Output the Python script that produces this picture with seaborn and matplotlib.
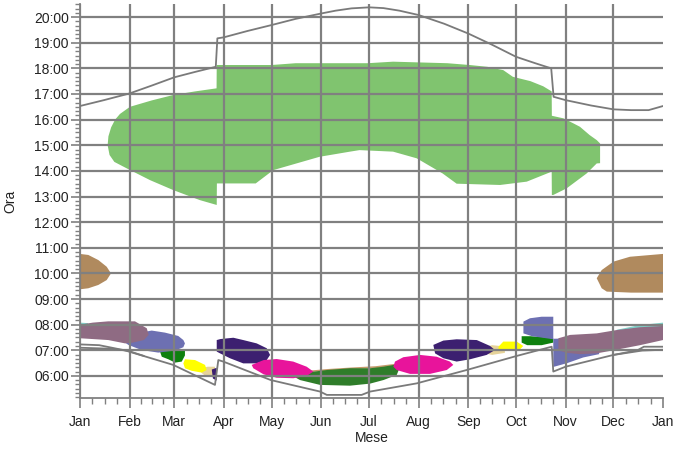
import matplotlib
matplotlib.use("Agg")
import matplotlib.pyplot as plt
import seaborn as sns
import numpy as np

# x axis: day of year, y axis: hour of day
month_days = [0, 31, 59, 90, 120, 151, 181, 212, 243, 273, 304, 334, 365]
month_labels = ["Jan", "Feb", "Mar", "Apr", "May", "Jun", "Jul", "Aug",
                "Sep", "Oct", "Nov", "Dec", "Jan"]
hour_ticks = list(range(6, 21))
hour_labels = [f"{h:02d}:00" for h in hour_ticks]

# sunset / sunrise curves (with the summer time jumps)
sunset_day = [0, 15, 31, 45, 59, 72, 85, 86, 90, 105, 120, 135, 151, 160, 170,
              181, 190, 200, 212, 228, 243, 258, 273, 285, 295, 296.5, 304,
              320, 334, 345, 356, 365]
sunset_hour = [16.53, 16.76, 17.02, 17.33, 17.65, 17.86, 18.06, 19.17, 19.21,
               19.46, 19.69, 19.93, 20.14, 20.25, 20.34, 20.38, 20.35, 20.25,
               20.08, 19.74, 19.36, 18.92, 18.45, 18.2, 18.0, 16.89, 16.76,
               16.55, 16.40, 16.37, 16.37, 16.53]
sunrise_day = [0, 12, 28, 58.4, 84.5, 86.6, 89.7, 119.4, 150.3, 154.5, 176.3,
               181.6, 210.8, 242, 273.4, 295.3, 296.3, 304, 334, 349, 353, 365]
sunrise_hour = [7.23, 7.2, 7.0, 6.43, 5.65, 6.62, 6.56, 5.84, 5.39, 5.26, 5.26,
                5.39, 5.71, 6.23, 6.78, 7.14, 6.17, 6.36, 6.82, 7.0, 7.14, 7.14]
sunrise2_left_day = [0, 20, 30, 40]
sunrise2_left_hour = [7.1, 7.06, 6.98, 6.78]
sunrise2_right_day = [334, 352, 365]
sunrise2_right_hour = [6.82, 6.99, 7.02]

# shading blobs (outline: day, hour)
green_up_day = [17.3, 17.8, 19.5, 22, 25, 31.3, 45, 58.4, 72, 85.5, 85.6, 120,
                135, 180, 196, 230, 244, 255, 265, 271, 282, 290, 295.3, 295.4,
                302.6, 309, 313, 319, 323.5, 325.6]
green_up_hour = [15.0, 15.35, 15.7, 16.0, 16.22, 16.5, 16.75, 16.96, 17.1,
                 17.22, 18.13, 18.13, 18.2, 18.2, 18.26, 18.2, 18.13, 18.06,
                 17.93, 17.67, 17.5, 17.3, 17.1, 16.15, 16.05, 15.85, 15.72,
                 15.4, 15.2, 15.07]
green_lo_day = [325.6, 323.5, 317.2, 304.7, 296.3, 295.4, 295.3, 279.7, 263,
                235.8, 227, 210.8, 196, 175, 169, 150, 121, 110, 85.7, 85.6,
                75, 58.4, 43.8, 29.2, 21.5, 18.5]
green_lo_hour = [14.3, 14.29, 13.9, 13.32, 13.06, 13.06, 13.97, 13.58, 13.45,
                 13.5, 13.9, 14.49, 14.75, 14.81, 14.75, 14.55, 14.03, 13.51,
                 13.51, 12.67, 12.86, 13.25, 13.64, 14.1, 14.35, 14.62]

brown_l_day = [0, 5.2, 11.5, 16.7, 19.4, 16.7, 11.5, 5.2, 0]
brown_l_hour = [10.76, 10.72, 10.52, 10.26, 10.0, 9.74, 9.55, 9.42, 9.38]
brown_r_day = [365, 344.3, 334, 326.6, 323.5, 326.6, 329.8, 345, 365]
brown_r_hour = [10.76, 10.65, 10.46, 10.13, 9.81, 9.42, 9.29, 9.25, 9.25]

cyan_l_day = [0, 5, 5, 0]
cyan_l_hour = [8.08, 8.06, 7.98, 7.98]
cyan_r_day = [336, 350, 365, 365, 336]
cyan_r_hour = [7.8, 7.98, 8.08, 7.85, 7.7]

blue_l_day = [28.2, 38.6, 44.9, 53.2, 61.5, 64.7, 65.7, 64.7, 59.5, 49, 38.6, 30.3]
blue_l_hour = [7.3, 7.7, 7.77, 7.69, 7.56, 7.4, 7.27, 7.12, 6.99, 6.91, 7.01, 7.21]
blue_r_day = [277.6, 281.7, 289, 296.3, 296.3, 283, 277.6]
blue_r_hour = [8.12, 8.25, 8.31, 8.31, 7.43, 7.55, 7.66]
blue_n_day = [296.3, 296.3, 305, 315, 325, 325]
blue_n_hour = [7.45, 6.35, 6.5, 6.72, 6.85, 7.5]

mauve_l_day = [0, 8, 17.7, 34.4, 41.8, 43, 40, 33, 28.2, 17.7, 0]
mauve_l_hour = [8.0, 8.08, 8.13, 8.13, 7.86, 7.6, 7.4, 7.3, 7.27, 7.4, 7.47]
mauve_r_day = [299.5, 306.8, 323.5, 336, 350.6, 365, 365, 350.6, 334, 323.5,
               313, 305, 299.5]
mauve_r_hour = [7.47, 7.6, 7.66, 7.79, 7.9, 7.95, 7.4, 7.2, 7.0, 6.88, 6.85,
                6.9, 7.0]

dkgreen_l_day = [50.1, 55, 65.7, 65.7, 63.7, 59.5, 55.3, 51.2]
dkgreen_l_hour = [6.95, 7.0, 7.0, 6.8, 6.56, 6.52, 6.65, 6.75]
dkgreen_r_day = [276.5, 282, 293, 296.3, 296.3, 289, 280, 276.5]
dkgreen_r_hour = [7.55, 7.55, 7.5, 7.45, 7.3, 7.2, 7.2, 7.3]

yellow_l_day = [64.7, 65.7, 72, 78.3, 79.3, 76.2, 69.9, 65.7]
yellow_l_hour = [6.49, 6.65, 6.62, 6.43, 6.23, 6.13, 6.2, 6.3]
yellow_r_day = [262, 265, 273.4, 277.5, 275.5, 265, 262]
yellow_r_hour = [7.14, 7.34, 7.34, 7.17, 7.04, 7.0, 7.05]

beige_l_day = [76, 80, 84.5, 84.5, 79, 76]
beige_l_hour = [6.3, 6.36, 6.36, 5.97, 5.98, 6.12]
beige_r_day = [252, 258, 266, 266, 258, 252]
beige_r_hour = [7.1, 7.2, 7.15, 6.9, 6.82, 6.9]

purple_s_day = [82.5, 85.6, 85.6, 83.2]
purple_s_hour = [6.25, 6.32, 5.82, 5.9]
purple_l_day = [85.6, 88, 96, 102.2, 110.6, 116.9, 119, 116.9, 110.6, 102.2,
                93.9, 87.7, 85.6]
purple_l_hour = [7.4, 7.44, 7.49, 7.4, 7.27, 7.08, 6.82, 6.62, 6.49, 6.49,
                 6.69, 6.88, 6.95]
purple_r_day = [221.2, 227.5, 235.8, 248.4, 256.7, 259.8, 254.6, 244.2, 235.8,
                227.5, 222.3]
purple_r_hour = [7.21, 7.38, 7.43, 7.4, 7.17, 7.01, 6.82, 6.65, 6.56, 6.69, 6.88]

tan_day = [142, 155, 170, 185, 197, 197, 185, 170, 155, 142]
tan_hour = [6.2, 6.27, 6.33, 6.38, 6.47, 6.38, 6.3, 6.27, 6.2, 6.14]
band_day = [134.6, 140, 154.5, 169, 181.6, 190, 198.3, 200, 198.3, 190, 181.6,
            169, 150.3, 137.7]
band_hour = [5.95, 6.12, 6.23, 6.3, 6.3, 6.36, 6.45, 6.3, 6.04, 5.84, 5.7,
             5.62, 5.65, 5.84]

pink_l_day = [107.5, 115, 123.1, 133.5, 141.9, 146.1, 141.9, 133.5, 123.1, 115, 108.5]
pink_l_hour = [6.43, 6.62, 6.66, 6.56, 6.36, 6.17, 6.0, 5.91, 5.93, 6.06, 6.3]
pink_r_day = [196.2, 197.2, 202.4, 212.9, 223.3, 231.6, 233.7, 229.6, 219.1,
              206.6, 198.3]
pink_r_hour = [6.36, 6.56, 6.73, 6.82, 6.75, 6.56, 6.43, 6.23, 6.08, 6.08, 6.23]

sns.set_style("white")
plt.rcParams["font.family"] = ["Liberation Sans", "DejaVu Sans"]

fig = plt.figure(figsize=(6.74, 4.5), dpi=100)
ax = fig.add_axes([0.1187, 0.1156, 0.865, 0.8755])

# blobs, back to front
shapes = [
    (green_up_day + green_lo_day, green_up_hour + green_lo_hour, "#80C46F"),
    (brown_l_day, brown_l_hour, "#B08A5E"),
    (brown_r_day, brown_r_hour, "#B08A5E"),
    (cyan_l_day, cyan_l_hour, "#80D2CA"),
    (cyan_r_day, cyan_r_hour, "#80D2CA"),
    (dkgreen_l_day, dkgreen_l_hour, "#0E800E"),
    (blue_l_day, blue_l_hour, "#6D70B2"),
    (mauve_l_day, mauve_l_hour, "#8F6B83"),
    (beige_l_day, beige_l_hour, "#E6D39A"),
    (yellow_l_day, yellow_l_hour, "#FFFF00"),
    (purple_s_day, purple_s_hour, "#3C2070"),
    (purple_l_day, purple_l_hour, "#3C2070"),
    (tan_day, tan_hour, "#C49A6C"),
    (band_day, band_hour, "#2F7D2A"),
    (pink_l_day, pink_l_hour, "#E8149B"),
    (pink_r_day, pink_r_hour, "#E8149B"),
    (beige_r_day, beige_r_hour, "#E6D39A"),
    (purple_r_day, purple_r_hour, "#3C2070"),
    (yellow_r_day, yellow_r_hour, "#FFFF00"),
    (dkgreen_r_day, dkgreen_r_hour, "#0E800E"),
    (blue_r_day, blue_r_hour, "#6D70B2"),
    (blue_n_day, blue_n_hour, "#6D70B2"),
    (mauve_r_day, mauve_r_hour, "#8F6B83"),
]
for xs, ys, col in shapes:
    ax.fill(xs, ys, color=col, lw=0, zorder=1)

line_kw = dict(ax=ax, color="#7A7A7A", lw=1.3, sort=False, estimator=None, zorder=3)
sns.lineplot(x=sunset_day, y=sunset_hour, **line_kw)
sns.lineplot(x=sunrise_day, y=sunrise_hour, **line_kw)
sns.lineplot(x=sunrise2_left_day, y=sunrise2_left_hour, **line_kw)
sns.lineplot(x=sunrise2_right_day, y=sunrise2_right_hour, **line_kw)

ax.set_xlim(0, 365)
ax.set_ylim(5.14, 20.51)

ax.set_xticks(month_days)
ax.set_xticklabels(month_labels)
minor_x = []
for a, b in zip(month_days[:-1], month_days[1:]):
    minor_x += [a + (b - a) * k / 4 for k in (1, 2, 3)]
ax.set_xticks(minor_x, minor=True)
ax.set_yticks(hour_ticks)
ax.set_yticklabels(hour_labels)
ax.set_yticks(np.arange(31, 124) / 6, minor=True)

ax.set_axisbelow(False)
ax.grid(True, which="major", color="#808080", lw=1.6)
ax.get_xgridlines()[-1].set_visible(False)

for s in ["top", "right"]:
    ax.spines[s].set_visible(False)
for s in ["left", "bottom"]:
    ax.spines[s].set_color("#808080")
    ax.spines[s].set_linewidth(1.3)

ax.tick_params(axis="x", which="major", direction="out", length=7, width=1.2,
               color="#808080", labelsize=10, labelcolor="#222222", pad=5,
               bottom=True)
ax.tick_params(axis="x", which="minor", direction="out", length=4, width=1.0,
               color="#808080", bottom=True)
ax.tick_params(axis="y", which="major", direction="out", length=6.5, width=1.2,
               color="#808080", labelsize=10, labelcolor="#222222", pad=1.5,
               left=True)
ax.tick_params(axis="y", which="minor", direction="out", length=3.5, width=1.0,
               color="#808080", left=True)

ax.set_xlabel("Mese", fontsize=10, color="#222222")
ax.set_ylabel("Ora", fontsize=10, color="#222222")
ax.xaxis.set_label_coords(0.5, -0.085)
ax.yaxis.set_label_coords(-0.108, 0.5)

fig.savefig("out.png", dpi=100)
